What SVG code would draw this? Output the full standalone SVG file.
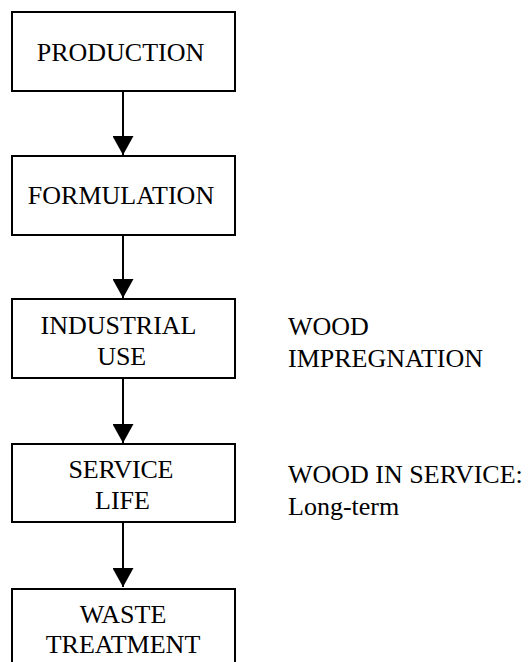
<svg xmlns="http://www.w3.org/2000/svg" width="530" height="662" viewBox="0 0 530 662">
  <style>
    .box { fill: #ffffff; stroke: #000000; stroke-width: 2; }
    .lbl { font-family: 'Liberation Serif', 'DejaVu Serif', serif; font-size: 26px; fill: #000000; }
    .c { text-anchor: middle; }
    .edge { stroke: #000000; stroke-width: 2; fill: none; marker-end: url(#arr); }
  </style>
  <defs>
    <marker id="arr" viewBox="0 0 19 21" refX="19" refY="10.5" markerWidth="19" markerHeight="21" markerUnits="userSpaceOnUse" orient="auto">
      <path d="M0,0 L19,10.5 L0,21 Z" fill="#000000"/>
    </marker>
  </defs>
  <rect width="530" height="662" fill="#ffffff"/>

  <g id="connectors">
    <line class="edge" x1="123" y1="91" x2="123" y2="155"/>
    <line class="edge" x1="123" y1="235" x2="123" y2="298"/>
    <line class="edge" x1="123" y1="378" x2="123" y2="443"/>
    <line class="edge" x1="123" y1="522" x2="123" y2="587"/>
  </g>

  <g id="production">
    <rect class="box" x="12" y="12" width="223" height="79"/>
    <text class="lbl c" x="120.5" y="61" font-family="Liberation Serif, DejaVu Serif, serif">PRODUCTION</text>
  </g>
  <g id="formulation">
    <rect class="box" x="12" y="156" width="223" height="79"/>
    <text class="lbl c" x="121" y="204">FORMULATION</text>
  </g>
  <g id="industrial-use">
    <rect class="box" x="12" y="299" width="223" height="79"/>
    <text class="lbl c" x="118.5" y="333.5">INDUSTRIAL</text>
    <text class="lbl c" x="121.7" y="365">USE</text>
  </g>
  <g id="service-life">
    <rect class="box" x="12" y="444" width="223" height="78"/>
    <text class="lbl c" x="121" y="477.5" textLength="105" lengthAdjust="spacing">SERVICE</text>
    <text class="lbl c" x="122.5" y="508.5">LIFE</text>
  </g>
  <g id="waste-treatment">
    <rect class="box" x="12" y="589" width="223" height="100"/>
    <text class="lbl c" x="123" y="622.7">WASTE</text>
    <text class="lbl c" x="123" y="653.3">TREATMENT</text>
  </g>

  <g id="wood-impregnation">
    <text class="lbl" x="288" y="335">WOOD</text>
    <text class="lbl" x="288" y="366.7">IMPREGNATION</text>
  </g>
  <g id="wood-in-service">
    <text class="lbl" x="288" y="483.3">WOOD IN SERVICE:</text>
    <text class="lbl" x="288" y="515">Long-term</text>
  </g>
</svg>
